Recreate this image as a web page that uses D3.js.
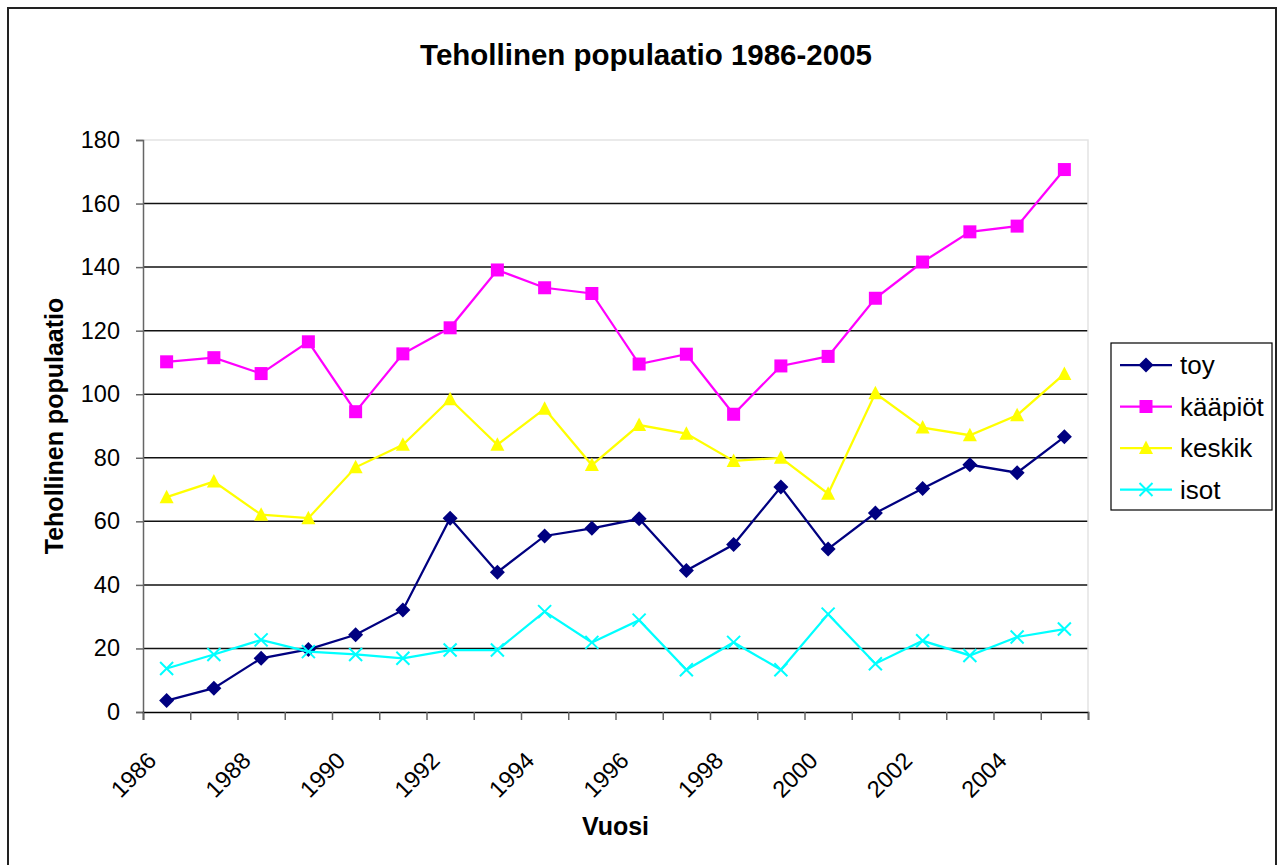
<!DOCTYPE html>
<html>
<head>
<meta charset="utf-8">
<script src="https://cdn.jsdelivr.net/npm/d3@7"></script>
<style>
  body { margin: 0; background: #fff; }
  text { font-family: "Liberation Sans", Arial, sans-serif; }
</style>
</head>
<body>
<svg id="chart"></svg>
<script>
var width = 1283,
    height = 865;

// data
var years = [1986, 1987, 1988, 1989, 1990, 1991, 1992, 1993, 1994, 1995,
             1996, 1997, 1998, 1999, 2000, 2001, 2002, 2003, 2004, 2005];
var toy = [3.6, 7.5, 16.9, 19.7, 24.3, 32.1, 61.0, 44.0, 55.4, 57.8,
           60.8, 44.5, 52.7, 70.8, 51.3, 62.6, 70.3, 77.8, 75.3, 86.6];
var kaapiot = [110.2, 111.5, 106.5, 116.5, 94.5, 112.7, 120.9, 139.1, 133.5, 131.7,
               109.5, 112.6, 93.7, 108.9, 111.9, 130.2, 141.6, 151.1, 152.9, 170.7];
var keskik = [67.6, 72.5, 62.1, 61.0, 77.0, 84.1, 98.4, 84.1, 95.4, 77.7,
              90.3, 87.6, 79.0, 80.0, 68.7, 100.3, 89.5, 87.1, 93.4, 106.4];
var isot = [13.7, 18.1, 22.7, 19.0, 18.1, 16.9, 19.5, 19.5, 31.6, 21.9,
            28.9, 13.3, 21.9, 13.3, 30.8, 15.2, 22.4, 17.8, 23.6, 26.1];
var seriesNames = ["toy", "k\u00e4\u00e4pi\u00f6t", "keskik", "isot"];
var yTicks = [0, 20, 40, 60, 80, 100, 120, 140, 160, 180];
var xLabels = [1986, 1988, 1990, 1992, 1994, 1996, 1998, 2000, 2002, 2004];

var plot = {left: 143, right: 1088, top: 140, bottom: 712};

var series = [
    {name: seriesNames[0], values: toy, color: "#000080", marker: "diamond"},
    {name: seriesNames[1], values: kaapiot, color: "#ff00ff", marker: "square"},
    {name: seriesNames[2], values: keskik, color: "#ffff00", marker: "triangle"},
    {name: seriesNames[3], values: isot, color: "#00ffff", marker: "cross"}
];

var svg = d3.select("#chart")
    .attr("width", width)
    .attr("height", height);

var x = d3.scaleBand().domain(years).range([plot.left, plot.right]),
    xi = d3.scaleLinear().domain([0, years.length]).range([plot.left, plot.right]),
    y = d3.scaleLinear().domain([0, 180]).range([plot.bottom, plot.top]);

function cx(d) { return x(d) + x.bandwidth() / 2; }

// outer frame
svg.append("rect")
    .attr("x", 8).attr("y", 8)
    .attr("width", 1268).attr("height", 880)
    .attr("fill", "#fff")
    .attr("stroke", "#222")
    .attr("stroke-width", 2);

// title
svg.append("text")
    .attr("x", 646).attr("y", 65)
    .attr("text-anchor", "middle")
    .attr("font-weight", "bold")
    .attr("font-size", 29.5)
    .text("Tehollinen populaatio 1986-2005");

// gridlines
svg.append("g")
    .selectAll("line")
    .data(yTicks.filter(t => t > 0 && t < 180))
    .join("line")
    .attr("x1", plot.left).attr("x2", plot.right)
    .attr("y1", d => y(d)).attr("y2", d => y(d))
    .attr("stroke", "#111")
    .attr("stroke-width", 1.5);

// plot area border (light)
svg.append("path")
    .attr("d", "M" + plot.left + "," + plot.top + "H" + plot.right + "V" + plot.bottom)
    .attr("fill", "none")
    .attr("stroke", "#e4e4e4")
    .attr("stroke-width", 1.5);

// y axis
var yAxis = svg.append("g")
    .attr("transform", "translate(" + plot.left + ",0)")
    .call(d3.axisLeft(y).tickValues(yTicks).tickSize(7).tickPadding(16));
yAxis.select(".domain").attr("stroke", "#666").attr("stroke-width", 1.5);
yAxis.selectAll(".tick line").attr("stroke", "#666").attr("stroke-width", 1.5);
yAxis.selectAll(".tick text")
    .attr("font-family", "Liberation Sans, Arial, sans-serif")
    .attr("font-size", 23.5)
    .attr("fill", "#000");

// x axis: ticks on category boundaries
var xAxis = svg.append("g")
    .attr("transform", "translate(0," + plot.bottom + ")")
    .call(d3.axisBottom(xi).tickValues(d3.range(0, years.length + 1)).tickSize(8).tickFormat(""));
xAxis.select(".domain").attr("stroke", "#000").attr("stroke-width", 1.5);
xAxis.selectAll(".tick line").attr("stroke", "#666").attr("stroke-width", 1.5);

svg.append("g")
    .selectAll("text")
    .data(xLabels)
    .join("text")
    .attr("transform", d => "translate(" + (cx(d) - 9) + "," + (plot.bottom + 50) + ") rotate(-45)")
    .attr("text-anchor", "end")
    .attr("font-size", 23.5)
    .text(d => d);

// axis titles
svg.append("text")
    .attr("x", (plot.left + plot.right) / 2).attr("y", 835)
    .attr("text-anchor", "middle")
    .attr("font-weight", "bold")
    .attr("font-size", 25)
    .text("Vuosi");

svg.append("text")
    .attr("transform", "translate(63," + (plot.top + plot.bottom) / 2 + ") rotate(-90)")
    .attr("text-anchor", "middle")
    .attr("font-weight", "bold")
    .attr("font-size", 25)
    .text("Tehollinen populaatio");

// markers
function drawMarker(g, type, color) {
    if (type === "diamond") {
        g.append("path").attr("d", "M0,-7.5L7.5,0L0,7.5L-7.5,0Z").attr("fill", color);
    } else if (type === "square") {
        g.append("rect").attr("x", -6.5).attr("y", -6.5).attr("width", 13).attr("height", 13).attr("fill", color);
    } else if (type === "triangle") {
        g.append("path").attr("d", "M0,-7.5L7,6L-7,6Z").attr("fill", color);
    } else {
        g.append("path").attr("d", "M-6.5,-6.5L6.5,6.5M-6.5,6.5L6.5,-6.5")
            .attr("stroke", color).attr("stroke-width", 2).attr("fill", "none");
    }
}

var line = d3.line()
    .x((d, i) => cx(years[i]))
    .y(d => y(d));

series.forEach(function(s) {
    svg.append("path")
        .attr("d", line(s.values))
        .attr("fill", "none")
        .attr("stroke", s.color)
        .attr("stroke-width", 2.25);
    s.values.forEach(function(v, i) {
        var g = svg.append("g").attr("transform", "translate(" + cx(years[i]) + "," + y(v) + ")");
        drawMarker(g, s.marker, s.color);
    });
});

// legend
var legend = svg.append("g");
legend.append("rect")
    .attr("x", 1111).attr("y", 343)
    .attr("width", 161).attr("height", 167)
    .attr("fill", "#fff")
    .attr("stroke", "#000")
    .attr("stroke-width", 1.2);

series.forEach(function(s, i) {
    var ly = 365 + i * 41.5;
    legend.append("line")
        .attr("x1", 1120).attr("x2", 1172)
        .attr("y1", ly).attr("y2", ly)
        .attr("stroke", s.color)
        .attr("stroke-width", 2.25);
    var g = legend.append("g").attr("transform", "translate(1146," + ly + ")");
    drawMarker(g, s.marker, s.color);
    legend.append("text")
        .attr("x", 1180).attr("y", ly + 9)
        .attr("font-size", 26)
        .text(s.name);
});
</script>
</body>
</html>
